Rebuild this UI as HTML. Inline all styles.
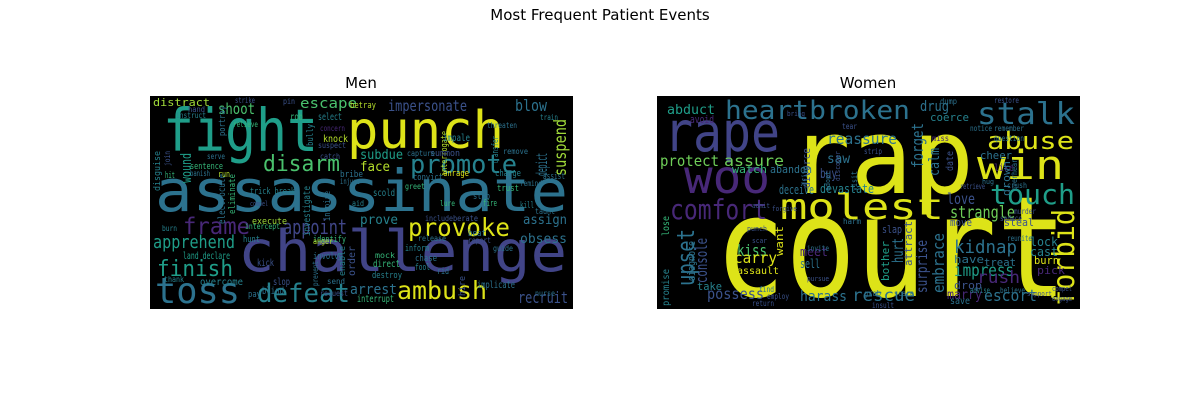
<!DOCTYPE html>
<html><head><meta charset="utf-8"><style>
html,body{margin:0;padding:0;background:#fff;width:1200px;height:400px;overflow:hidden}
svg{display:block}
text{font-family:"DejaVu Sans Mono","Liberation Mono",monospace}
.t{font-family:"DejaVu Sans","Liberation Sans",sans-serif;fill:#000}
</style></head><body>
<svg id="chart" width="1200" height="400" viewBox="0 0 1200 400">
<text class="t" x="600" y="20" font-size="15" text-anchor="middle">Most Frequent Patient Events</text>
<text class="t" x="361" y="88" font-size="15" text-anchor="middle">Men</text>
<text class="t" x="868" y="88" font-size="15" text-anchor="middle">Women</text>
<g id="men" transform="translate(150,96)"><rect width="423" height="213" fill="#000"/></g>
<g id="women" transform="translate(657,96)"><rect width="423" height="213" fill="#000"/></g>
</svg>
<script>
// [word, x, baseline, fontSize, width, color, rotated]
const menWords = [
["fight",13,55,59,155,"#1f9e89",0],["punch",197,52,52,157,"#dde318",0],
["assassinate",5,115,58,413,"#2c728e",0],["challenge",88,175,57,329,"#414487",0],
["toss",5,207,36,85,"#2c728e",0],["defeat",107,206,26,93,"#26828e",0],
["ambush",247,203,25,90,"#dde318",0],["recruit",368,207,16,50,"#3b528b",0],
["distract",3,10,11,57,"#a0da39",0],["shoot",68,18,15,37,"#4ac16d",0],
["escape",150,12,14,57,"#4ac16d",0],["impersonate",238,15,15,79,"#3b528b",0],
["blow",365,15,16,32,"#2c728e",0],["suspend",416,80,17,57,"#a0da39",1],
["disarm",113,75,22,77,"#4ac16d",0],["promote",260,77,26,107,"#26828e",0],
["wound",41,87,14,30,"#1f9e89",1],["depict",397,80,15,23,"#2c728e",1],
["subdue",210,63,13,43,"#1f9e89",0],["face",210,75,13,30,"#b5de2b",0],
["frame",33,138,23,67,"#482878",0],["appoint",133,138,20,64,"#404688",0],
["provoke",258,140,25,102,"#dde318",0],["prove",210,128,13,38,"#26828e",0],
["assign",373,128,13,44,"#2c728e",0],["apprehend",3,152,18,82,"#1f9e89",0],
["obsess",370,147,13,47,"#2c728e",0],["finish",7,180,22,76,"#1f9e89",0],
["arrest",200,198,14,47,"#2c728e",0],["execute",102,128,9,35,"#a0da39",0],
["sentence",40,73,9,33,"#35b779",0],["knock",173,46,10,25,"#b5de2b",0],
["rob",140,24,10,13,"#35b779",0],["select",168,24,10,24,"#26828e",0],
["betray",200,12,9,26,"#b5de2b",0],["land declare",33,163,10,47,"#1f9e89",0],
["overcome",50,189,10,43,"#26828e",0],["kick",107,170,10,17,"#3b528b",0],
["slop",123,189,10,17,"#3b528b",0],["blind",112,198,10,22,"#2c728e",0],
["interrupt",207,206,10,37,"#35b779",0],["direct",223,171,10,27,"#35b779",0],
["implicate",327,192,10,38,"#2c728e",0],["identify",163,146,9,33,"#35b779",0],
["hunt",93,146,9,17,"#26828e",0],["bribe",190,81,9,23,"#2c728e",0],
["convict",263,84,9,30,"#2c728e",0],["scold",223,100,10,22,"#26828e",0],
["trust",347,95,9,22,"#35b779",0],["interrogate",297,80,9,45,"#b5de2b",1],
["investigate",160,140,10,50,"#26828e",1],["inspire",180,125,9,30,"#2c728e",1],
["electrocute",75,128,10,50,"#2c728e",1],["eliminate",85,118,9,40,"#35b779",1],
["disguise",10,95,9,40,"#26828e",1],["hit",15,82,9,10,"#35b779",0],
["run",68,81,9,12,"#b5de2b",0],["portray",75,40,9,30,"#2c728e",1],
["bully",163,50,9,22,"#26828e",1],["impale",293,45,10,27,"#26828e",0],
["threaten",337,32,8,30,"#2c728e",0],["enrage",293,80,9,26,"#dde318",0],
["fire",333,110,9,14,"#35b779",0],["kill",370,112,9,14,"#26828e",0],
["stab",323,103,9,17,"#2c728e",0],["beat",318,140,9,18,"#2c728e",0],
["report",318,147,8,23,"#3b528b",0],["guide",343,155,8,20,"#2c728e",0],
["inform",255,155,9,24,"#26828e",0],["chase",265,165,9,22,"#2c728e",0],
["destroy",222,182,9,30,"#26828e",0],["order",205,180,10,30,"#3b528b",1],
["enable",195,180,9,30,"#26828e",1],["anger",163,148,8,20,"#b5de2b",0],
["pay",98,201,9,13,"#2c728e",0],["hire",315,200,9,20,"#3b528b",1],
["fool",265,174,9,15,"#26828e",0],["rid",287,178,9,12,"#2c728e",0],
["involve",163,163,9,30,"#2c728e",0],["mock",225,162,8,20,"#35b779",0],
["summon",280,60,9,30,"#3b528b",0],["capture",257,60,8,28,"#2c728e",0],
["transfer",348,68,9,28,"#26828e",1],["charge",345,80,9,26,"#26828e",0],
["remove",353,58,8,25,"#2c728e",0],["assist",393,83,9,22,"#2c728e",0],
["remind",370,90,8,22,"#2c728e",0],["taunt",385,118,8,20,"#2c728e",0],
["greet",255,93,8,20,"#35b779",0],["send",177,188,8,18,"#2c728e",0],
["trick break",100,98,9,45,"#26828e",0],["intercept",95,133,8,35,"#35b779",0],
["include",275,125,8,28,"#3b528b",0],["berate",303,125,8,25,"#3b528b",0],
["aid",202,110,8,12,"#26828e",0],["lure",290,110,8,15,"#35b779",0],
["release",268,145,8,28,"#2c728e",0],["nurse",385,200,8,20,"#2c728e",0],
["thank",14,186,8,20,"#26828e",0],["request",170,200,8,28,"#3b528b",0],
["hand",38,16,8,17,"#3b528b",0],["instruct",26,22,8,30,"#26828e",0],
["strike",85,7,8,20,"#3b528b",0],["pin",133,8,8,12,"#3b528b",0],
["relieve",83,31,8,25,"#35b779",0],["suspect",168,52,8,28,"#3b528b",0],
["concern",170,35,8,25,"#482878",0],["join",20,70,8,15,"#3b528b",1],
["banish",40,80,8,20,"#2c728e",0],["burn",12,135,8,15,"#26828e",0],
["serve",57,63,8,18,"#2c728e",0],["catch",170,63,8,20,"#3b528b",0],
["injure",190,88,8,20,"#2c728e",0],["compel",100,110,7,18,"#3b528b",0],
["train",390,24,8,18,"#26828e",0],["prevent",168,190,8,25,"#2c728e",1]
];
const womenWords = [
["rap",132,97,104,185,"#dde318",0],["court",58,200,140,352,"#dde318",0],
["rape",7,55,55,116,"#414487",0],["heartbroken",68,23,26,185,"#2c728e",0],
["stalk",320,28,30,98,"#2c728e",0],["abduct",10,18,13,48,"#1f9e89",0],
["drug",263,15,14,29,"#2c728e",0],["coerce",273,25,11,39,"#26828e",0],
["abuse",330,53,24,87,"#dde318",0],["woo",27,97,46,86,"#482878",0],
["win",320,83,40,87,"#dde318",0],["protect",3,70,15,59,"#6ece58",0],
["assure",67,70,15,60,"#6ece58",0],["watch",75,77,11,35,"#35b779",0],
["abandon",113,77,11,42,"#2c728e",0],["avoid",33,27,11,24,"#482878",0],
["reassure",170,48,15,70,"#2c728e",0],["saw",170,67,13,23,"#2c728e",0],
["buy",163,82,13,17,"#3b528b",0],["forget",266,72,16,45,"#2c728e",1],
["calm",282,80,14,28,"#2c728e",1],["date",296,75,10,20,"#3b528b",1],
["divorce",153,92,11,40,"#3b528b",1],["touch",333,108,28,85,"#1f9e89",0],
["comfort",13,123,28,97,"#482878",0],["molest",123,123,36,164,"#dde318",0],
["strangle",293,122,17,65,"#6ece58",0],["love",290,108,15,28,"#3b528b",0],
["deceive",122,98,12,35,"#2c728e",0],["devastate",163,97,12,54,"#26828e",0],
["cheer",323,63,11,32,"#2c728e",0],["like",337,75,10,20,"#482878",0],
["drown",353,100,11,35,"#2c728e",1],["forbid",417,210,30,97,"#dde318",1],
["upset",37,190,24,57,"#2c728e",1],["console",50,187,16,45,"#3b528b",1],
["diagnose",38,185,11,40,"#2c728e",1],["kiss",80,160,16,30,"#4ac16d",0],
["carry",77,167,15,43,"#dde318",0],["assault",80,178,10,42,"#dde318",0],
["kidnap",297,157,18,63,"#2c728e",0],["impress",297,180,17,60,"#1f9e89",0],
["embrace",287,197,16,60,"#2c728e",1],["hurt",246,167,15,25,"#2c728e",1],
["surprise",270,197,15,53,"#3b528b",1],["want",126,160,11,30,"#dde318",1],
["slap",225,137,11,20,"#3b528b",0],["move",293,130,11,22,"#3b528b",0],
["steal",347,130,11,30,"#3b528b",0],["meet",143,160,12,28,"#482878",0],
["sell",143,172,12,20,"#2c728e",0],["bother",232,185,11,40,"#1f9e89",1],
["attract",255,170,11,45,"#3b528b",1],["lock",373,150,12,28,"#26828e",0],
["cast",373,160,12,28,"#26828e",0],["have",297,167,11,30,"#2c728e",0],
["treat",327,170,11,32,"#2c728e",0],["burn",377,168,11,25,"#dde318",0],
["pick",380,178,11,28,"#482878",0],["drop",297,193,11,28,"#3b528b",0],
["rush",320,187,17,43,"#482878",0],["marry",290,203,13,35,"#482878",0],
["escort",327,205,16,53,"#2c728e",0],["save",293,208,10,20,"#2c728e",0],
["rescue",195,205,17,63,"#2c728e",0],["harass",143,205,14,47,"#2c728e",0],
["possess",50,203,15,57,"#3b528b",0],["take",40,194,11,25,"#26828e",0],
["promise",12,210,10,37,"#26828e",1],["lose",12,140,10,20,"#35b779",1],
["advise",313,197,8,20,"#26828e",0],["employ",110,203,8,22,"#3b528b",0],
["insult",215,212,8,22,"#3b528b",0],["grab",207,200,8,17,"#2c728e",0],
["scare",237,200,8,20,"#2c728e",0],["believe",343,197,8,25,"#2c728e",0],
["find",102,196,8,15,"#2c728e",0],["return",95,210,8,22,"#3b528b",0],
["invite",150,155,8,22,"#2c728e",0],["reunite",350,145,8,25,"#2c728e",0],
["harm",186,128,8,18,"#2c728e",0],["restore",337,7,8,25,"#3b528b",0],
["remember",337,35,8,30,"#2c728e",0],["question",337,45,8,30,"#2c728e",0],
["notice",313,35,8,22,"#2c728e",0],["tear",185,33,8,15,"#3b528b",0],
["miss",275,45,8,17,"#482878",0],["strip",207,58,8,18,"#3b528b",0],
["visit",200,95,8,20,"#2c728e",1],["drive",150,90,8,20,"#2c728e",1],
["overhear",360,95,8,32,"#2c728e",1],["crush",350,92,8,20,"#2c728e",0],
["retrieve",303,93,8,25,"#3b528b",0],["murder",357,118,8,22,"#3b528b",0],
["seduce",343,125,8,22,"#3b528b",0],["dump",283,8,8,17,"#2c728e",0],
["bring",130,20,7,18,"#3b528b",0],["discover",183,85,7,30,"#3b528b",1],
["adopt",173,95,7,20,"#2c728e",1],["hug",325,88,7,12,"#2c728e",0],
["forgive",115,115,7,25,"#3b528b",0],["admit",95,112,7,18,"#3b528b",0],
["scar",95,147,7,15,"#3b528b",0],["punch",90,135,7,20,"#3b528b",0],
["pursue",150,185,7,22,"#3b528b",0],["support",370,200,7,25,"#3b528b",0],
["engage",395,205,7,20,"#3b528b",0],["compel",395,195,7,20,"#3b528b",0]
];
function draw(gid, words, panel) {
  const g = document.getElementById(gid);
  const NS = "http://www.w3.org/2000/svg";
  words.forEach(w => {
    const t = document.createElementNS(NS, "text");
    t.textContent = w[0];
    t.setAttribute("font-size", w[3]);
    t.setAttribute("fill", w[5]);
    t.setAttribute("textLength", w[4]);
    t.setAttribute("lengthAdjust", "spacingAndGlyphs");
    if (w[6]) {
      t.setAttribute("transform", "translate(" + w[1] + "," + w[2] + ") rotate(-90)");
      t.setAttribute("x", 0); t.setAttribute("y", 0);
    } else {
      t.setAttribute("x", w[1]); t.setAttribute("y", w[2]);
    }
    
    
    g.appendChild(t);
  });
}
draw("men", menWords, "men");
draw("women", womenWords, "women");
</script>
</body></html>
